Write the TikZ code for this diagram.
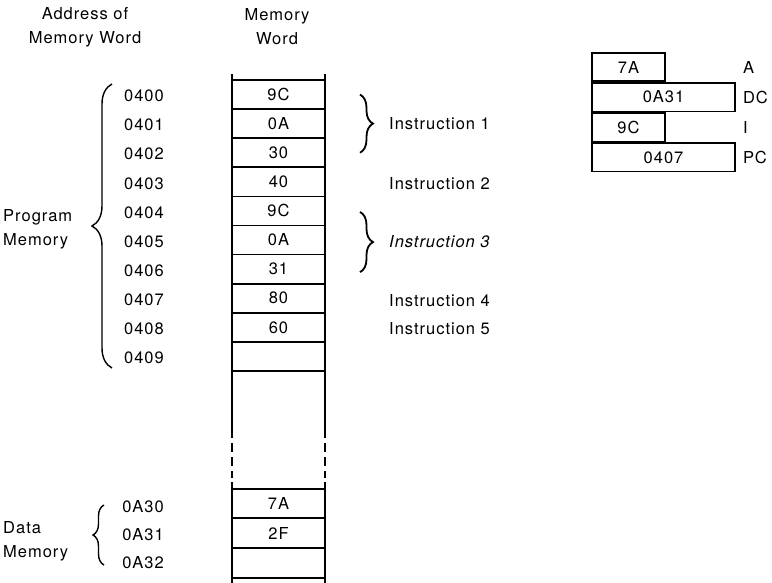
\documentclass[tikz,border=0pt]{standalone}
\usepackage{fontspec}
\setmainfont{TeX Gyre Heros}[LetterSpace=6]
\usetikzlibrary{positioning,decorations.pathreplacing}
\tikzset{
  cell/.style={draw, line width=1.6pt, minimum width=93pt, minimum height=29.1pt, inner sep=0pt},
  reg/.style={draw, line width=1.6pt, minimum height=28.5pt, inner sep=0pt},
  lbl/.style={inner sep=0pt},
  addr/.style={lbl, anchor=east},
  rail/.style={line width=1.6pt},
  brc/.style={decorate, decoration={brace, amplitude=#1}, line width=1.4pt},
  brc/.default=13
}

\begin{document}
\begin{tikzpicture}[x=1pt, y=-1pt, font=\fontsize{16.5}{24}\selectfont]
  \useasboundingbox (0,0) rectangle (772,583);

  % headings
  \node[lbl, align=center] (hadr) at (85,27) {Address of\\Memory Word};
  \node[lbl, align=center] (hmem) at (277,27) {Memory\\Word};

  % program memory
  \foreach \v [count=\i from 0] in {9C,0A,30,40,9C,0A,31,80,60,{}} {
    \node[cell] (m\i) at (278.5, {80+29.1*(\i+0.5)}) {\v};
    \node[addr] (a\i) at (164, {81.5+29.1*(\i+0.5)}) {040\i};
  }

  % data memory
  \foreach \v/\ad/\ya/\yc [count=\i] in {7A/0A30/507/503.5, 2F/0A31/535/533, {}/0A32/563/563} {
    \node[cell, minimum height=29.5pt] (d\i) at (278.5,\yc) {\v};
    \node[addr] (b\i) at (164,\ya) {\ad};
  }

  % side rails
  \foreach \x in {232,325} {
    \draw[rail] (\x,74) -- (\x,438);
    \draw[rail, dash pattern=on 9pt off 5pt] (\x,443) -- (\x,478);
    \draw[rail] (\x,482) -- (\x,583);
  }

  % group braces
  \node[lbl, align=left, anchor=west] (prog) at (3,229) {Program\\Memory};
  \draw[brc=20] (112,368) -- (112,84);
  \node[lbl, align=left, anchor=west] (data) at (3,541) {Data\\Memory};
  \draw[brc=11] (104,565) -- (104,505);

  % instructions
  \draw[brc, line width=1.8pt] ([xshift=81.5pt]m0.center) -- ([xshift=81.5pt]m2.center);
  \draw[brc, line width=1.8pt] ([xshift=81.5pt,yshift=-1pt]m4.center) -- ([xshift=81.5pt,yshift=-3pt]m6.center);
  \node[lbl, anchor=west] (ins1) at (389,124) {Instruction 1};
  \node[lbl, anchor=west] (ins2) at (389,184) {Instruction 2};
  \node[lbl, anchor=west, font=\fontsize{16.5}{24}\selectfont\itshape] (ins3) at (389,242) {Instruction 3};
  \node[lbl, anchor=west] (ins4) at (389,301) {Instruction 4};
  \node[lbl, anchor=west] (ins5) at (389,329) {Instruction 5};

  % registers
  \node[reg, minimum width=73pt] (ra) at (628.5,67) {7A};
  \node[reg, minimum width=143pt, anchor=north west] (rdc) at (ra.south west) {0A31};
  \node[reg, minimum width=73pt, anchor=north west] (ri) at (rdc.south west) {9C};
  \node[reg, minimum width=143pt, anchor=north west] (rpc) at (ri.south west) {0407};
  \node[lbl, right=7pt of rdc] (ldc) {DC};
  \node[lbl, anchor=west] (la) at (ldc.west |- ra) {A};
  \node[lbl, anchor=west] (li) at (ldc.west |- ri) {I};
  \node[lbl, anchor=west] (lpc) at (ldc.west |- rpc) {PC};
\end{tikzpicture}
\end{document}
